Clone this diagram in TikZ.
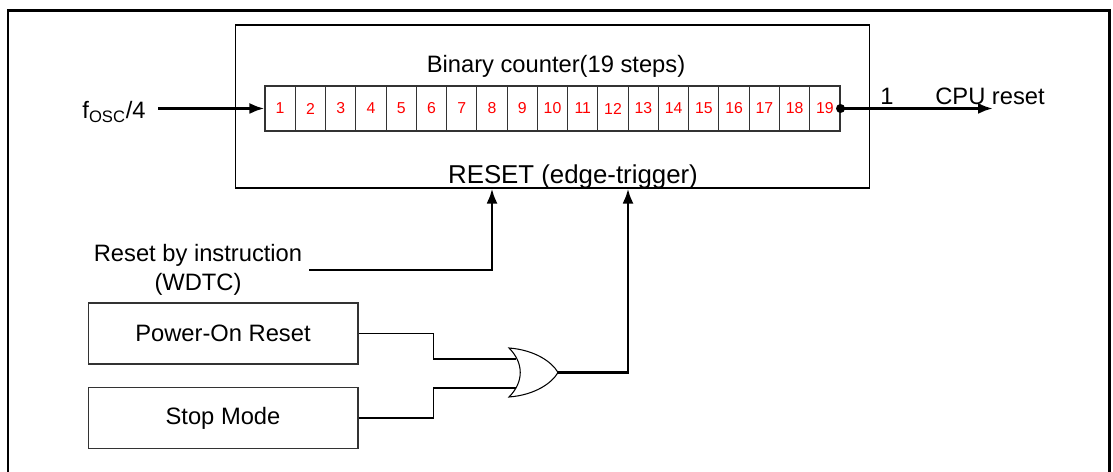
\documentclass[tikz,border=0pt]{standalone}
\usepackage{fontspec}
\setmainfont{Liberation Sans}
\usepackage{tikz}
\usetikzlibrary{arrows.meta,positioning}

\begin{document}
\begin{tikzpicture}[x=0.02cm, y=-0.02cm,
        txt/.style={font=\fontsize{13.5}{16.4}\selectfont, inner sep=0pt},
        cell/.style={draw=black!80, line width=0.6pt, minimum width=0.605cm, minimum height=0.9cm,
            inner sep=0pt, text=red, font=\fontsize{9}{10}\selectfont},
        srcbox/.style={draw=black!80, line width=0.6pt, minimum width=5.4cm, minimum height=1.22cm,
            font=\fontsize{13.5}{16.4}\selectfont},
        bus/.style={line width=1.6pt},
        wire/.style={line width=0.6pt},
        tip/.style={-{Latex[length=0.3cm,width=0.22cm]}}]
        \useasboundingbox (0,0) rectangle (1113,472);
        \draw[line width=1.7pt] (8,472) -- (8,11) -- (1109,11) -- (1109,472);

        \node[draw, line width=0.6pt, minimum width=12.7cm, minimum height=3.26cm] (ctr) at (552.5,106.5) {};
        \node[txt] (title) at (556,66) {Binary counter(19 steps)};
        \node[txt, font=\fontsize{14.7}{17}\selectfont] (rst) at (573,177) {RESET (edge-trigger)};

        \foreach \i in {1,...,19}
            \node[cell] (c\i) at (249.87+30.263*\i,108.5) {\i};

        \node[txt, anchor=east, inner xsep=0.24cm] (fosc) at (158,112) {f\textsubscript{OSC}/4};
        \draw[bus, tip] (fosc.east |- c1.west) -- (c1.west);

        \coordinate (cpu) at (993,0);
        \fill (c19.east) circle (0.09cm);
        \draw[bus, tip] (c19.east) -- (cpu |- c19.east);
        \node[txt] (one) at (887,96.5) {1};
        \node[txt] (cpulbl) at (990,96.5) {CPU reset};

        \coordinate (tapA) at (492,0);
        \coordinate (tapB) at (628,0);

        \node[txt, align=center, inner xsep=0.14cm] (instr) at (198,270) {Reset by instruction\\(WDTC)};
        \draw[bus, tip] (instr.east) -| (tapA |- ctr.south);

        \node[srcbox] (por) at (223,333.5) {Power-On Reset};
        \node[srcbox] (stop) at (223,418) {Stop Mode};

        \coordinate (orin1) at (516,359);
        \coordinate (orin2) at (516,388);
        \coordinate (orout) at (558,372.5);
        \draw[wire] (por.east) -- ++(75,0) |- (orin1);
        \draw[wire] (stop.east) -- ++(75,0) |- (orin2);
        \draw[wire, fill=white] (509,348) .. controls (535,350) and (552,362) .. (orout)
            .. controls (552,383) and (535,395) .. (509,397)
            .. controls (524,382) and (524,363) .. cycle;
        \draw[bus, tip] (orout) -| (tapB |- ctr.south);
    \end{tikzpicture}
\end{document}
